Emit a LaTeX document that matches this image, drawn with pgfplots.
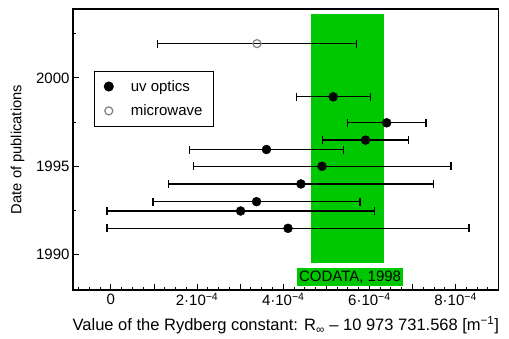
\documentclass[border=0pt]{standalone}
\usepackage{fontspec}
\setmainfont{Liberation Sans}
\usepackage{pgfplots}
\pgfplotsset{compat=1.18}
\definecolor{codata}{RGB}{0,200,0}
\newcommand\F{\fontsize{15}{17}\selectfont}
\newcommand\FL{\fontsize{16.5}{19}\selectfont}
\newcommand\FY{\fontsize{14.7}{17}\selectfont}
\pgfplotstableread{
x y e
5.16 1998.93 0.86
6.40 1997.46 0.91
5.91 1996.48 1.00
3.61 1995.95 1.78
4.90 1995.00 2.99
4.41 1994.00 3.08
3.38 1993.00 2.40
3.01 1992.47 3.10
4.11 1991.49 4.20
}\uvdata
\pgfplotstableread{
x y e
3.39 2001.94 2.31
}\mwdata
\begin{document}
\begin{tikzpicture}
\path[use as bounding box] (-73pt,-48pt) rectangle (436pt,290pt);
\begin{axis}[at={(0pt,0pt)}, anchor=south west, scale only axis,
 width=425.7pt, height=281pt,
 xmin=-0.88, xmax=9.0, ymin=1988.0, ymax=2003.9,
 xtick={0,1,...,8},
 xticklabels={0,,2·10\textsuperscript{−4},,4·10\textsuperscript{−4},,6·10\textsuperscript{−4},,8·10\textsuperscript{−4}},
 minor xtick={-0.75,-0.5,...,8.75},
 ytick={1990,1995,2000}, yticklabels={1990,1995,2000},
 minor ytick={1992.5,1997.5,2002.5},
 xtick pos=bottom, ytick pos=left, tick align=inside,
 major tick length=6pt, minor tick length=3pt,
 tick style={black, line width=1pt},
 axis line style={line width=1.2pt},
 ticklabel style={font=\F},
 xlabel={Value of the Rydberg constant: R\textsubscript{∞} – 10 973 731.568 [m\textsuperscript{−1}]},
 ylabel={Date of publications},
 xlabel style={font=\FL, at={(axis description cs:0.5,-0.125)}, anchor=center},
 ylabel style={font=\FY, at={(axis description cs:-0.13,0.5)}, anchor=center},
 legend style={at={(0.05,0.78)}, anchor=north west, font=\F, draw=black, line width=1pt,
   inner xsep=9.5pt, inner ysep=7pt, row sep=8pt},
 legend cell align=left,
 legend image code/.code={\path[draw=none,fill=none] (0pt,-5pt) rectangle (20pt,5pt); \draw[#1] plot coordinates {(0pt,0pt)};},
]
\addplot[fill=codata, draw=none, forget plot] coordinates {(4.65,1989.5) (6.33,1989.5) (6.33,2003.64) (4.65,2003.64)} --cycle;
\addplot[only marks, black, mark=*, mark size=4.5pt,
  error bars/.cd, x dir=both, x explicit, error mark=|,
  error bar style={line width=1.3pt},
  error mark options={mark size=4pt, line width=1.3pt}]
  table[x=x, y=y, x error=e]{\uvdata};
\addlegendentry{uv optics}
\addplot[only marks, black, mark=o, mark size=4pt, mark options={draw=black!50, fill=white, line width=1.2pt},
  error bars/.cd, x dir=both, x explicit, error mark=|,
  error bar style={line width=1.3pt},
  error mark options={mark size=4pt, line width=1.3pt, draw=black}]
  table[x=x, y=y, x error=e]{\mwdata};
\addlegendentry{microwave}
\node[fill=codata, font=\F, inner xsep=2pt, inner ysep=2.5pt] at (axis cs:5.55,1988.74) {CODATA, 1998};
\end{axis}
\end{tikzpicture}
\end{document}
